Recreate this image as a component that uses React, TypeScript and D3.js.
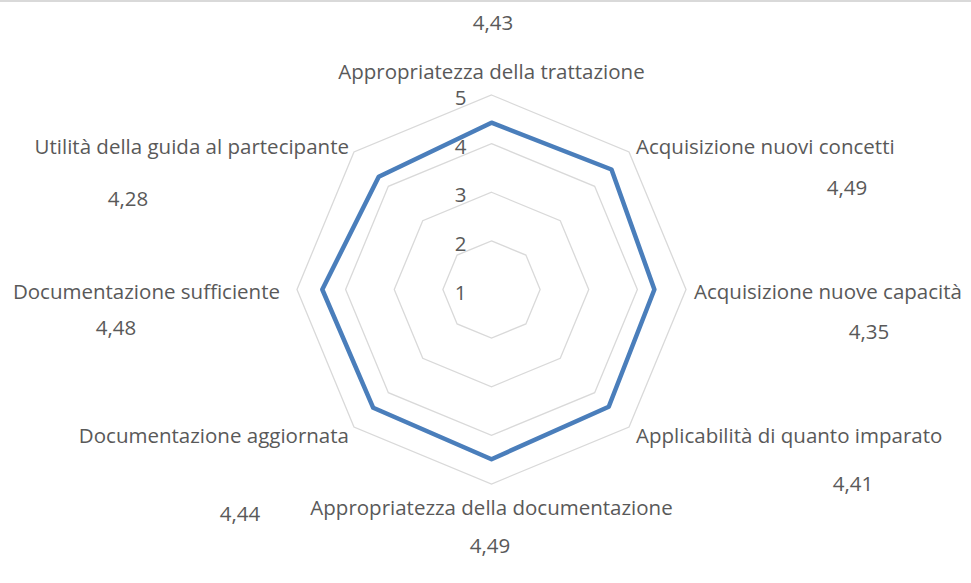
import * as d3 from 'd3';
import { useEffect, useRef } from 'react';

const width = 971;
const height = 583;

const categories = [
  'Appropriatezza della trattazione',
  'Acquisizione nuovi concetti',
  'Acquisizione nuove capacità',
  'Applicabilità di quanto imparato',
  'Appropriatezza della documentazione',
  'Documentazione aggiornata',
  'Documentazione sufficiente',
  'Utilità della guida al partecipante',
];
const values = [4.43, 4.49, 4.35, 4.41, 4.49, 4.44, 4.48, 4.28];
const ticks = [1, 2, 3, 4, 5];

// label placement (Excel-style, per axis)
const catLayout = [
  { anchor: 'middle', dx: 0, dy: -24 },
  { anchor: 'start', dx: 7, dy: -6 },
  { anchor: 'start', dx: 8, dy: 1 },
  { anchor: 'start', dx: 7, dy: 8 },
  { anchor: 'middle', dx: 0, dy: 23 },
  { anchor: 'end', dx: -5, dy: 8 },
  { anchor: 'end', dx: -17, dy: 1 },
  { anchor: 'end', dx: -5, dy: -6 },
];
const valueLabelPos = [
  [493, 22],
  [847, 187],
  [869, 331],
  [853, 483],
  [490, 545],
  [240, 513],
  [116, 327],
  [128, 198],
];

const cx = 491.5;
const cy = 289.5;
const R = 194.5;
const font = '"Open Sans", sans-serif';
const fontSize = 20.5;
const textColor = '#595959';

const RadarChart = () => {
  const svgRef = useRef<SVGSVGElement>(null);

  useEffect(() => {
    const svg = d3.select(svgRef.current);
    svg.selectAll('*').remove();

    svg.append('rect').attr('width', width).attr('height', height).attr('fill', '#fff');
    svg.append('rect').attr('x', 0).attr('y', 0).attr('width', width).attr('height', 2).attr('fill', '#d9d9d9');

    const r = d3.scaleLinear().domain([1, 5]).range([0, R]);
    const angle = (i: number) => (i * 2 * Math.PI) / categories.length;
    const pt = (i: number, v: number): [number, number] => [
      cx + r(v) * Math.sin(angle(i)),
      cy - r(v) * Math.cos(angle(i)),
    ];

    const g = svg.append('g');

    // grid rings
    ticks.slice(1).forEach((t) => {
      g.append('path')
        .attr('d', d3.line()(categories.map((_, i) => pt(i, t))) + 'Z')
        .attr('fill', 'none')
        .attr('stroke', '#d9d9d9')
        .attr('stroke-width', 1.3);
    });

    // tick labels
    g.selectAll('text.tick')
      .data(ticks)
      .enter()
      .append('text')
      .attr('class', 'tick')
      .attr('x', cx - 25)
      .attr('y', (d) => cy - r(d) + 2)
      .attr('dominant-baseline', 'central')
      .attr('text-anchor', 'end')
      .attr('font-family', font)
      .attr('font-size', fontSize)
      .attr('fill', textColor)
      .text((d) => d);

    // series
    g.append('path')
      .attr('d', d3.line()(values.map((v, i) => pt(i, v))) + 'Z')
      .attr('fill', 'none')
      .attr('stroke', '#4a7ebb')
      .attr('stroke-width', 4.5)
      .attr('stroke-linejoin', 'round');

    // category labels
    g.selectAll('text.cat')
      .data(categories)
      .enter()
      .append('text')
      .attr('class', 'cat')
      .attr('x', (_, i) => pt(i, 5)[0] + catLayout[i].dx)
      .attr('y', (_, i) => pt(i, 5)[1] + catLayout[i].dy)
      .attr('dominant-baseline', 'central')
      .attr('text-anchor', (_, i) => catLayout[i].anchor)
      .attr('font-family', font)
      .attr('font-size', fontSize)
      .attr('fill', textColor)
      .text((d) => d);

    // value labels
    g.selectAll('text.val')
      .data(values)
      .enter()
      .append('text')
      .attr('class', 'val')
      .attr('x', (_, i) => valueLabelPos[i][0])
      .attr('y', (_, i) => valueLabelPos[i][1])
      .attr('dominant-baseline', 'central')
      .attr('text-anchor', 'middle')
      .attr('font-family', font)
      .attr('font-size', fontSize)
      .attr('fill', textColor)
      .text((d) => d3.format('.2f')(d).replace('.', ','));
  }, []);

  return (
    <div style={{ position: 'absolute', left: 0, top: 0 }}>
      <svg ref={svgRef} width={width} height={height} style={{ display: 'block' }}></svg>
    </div>
  );
};

export default function App() {
  return <RadarChart />;
}
